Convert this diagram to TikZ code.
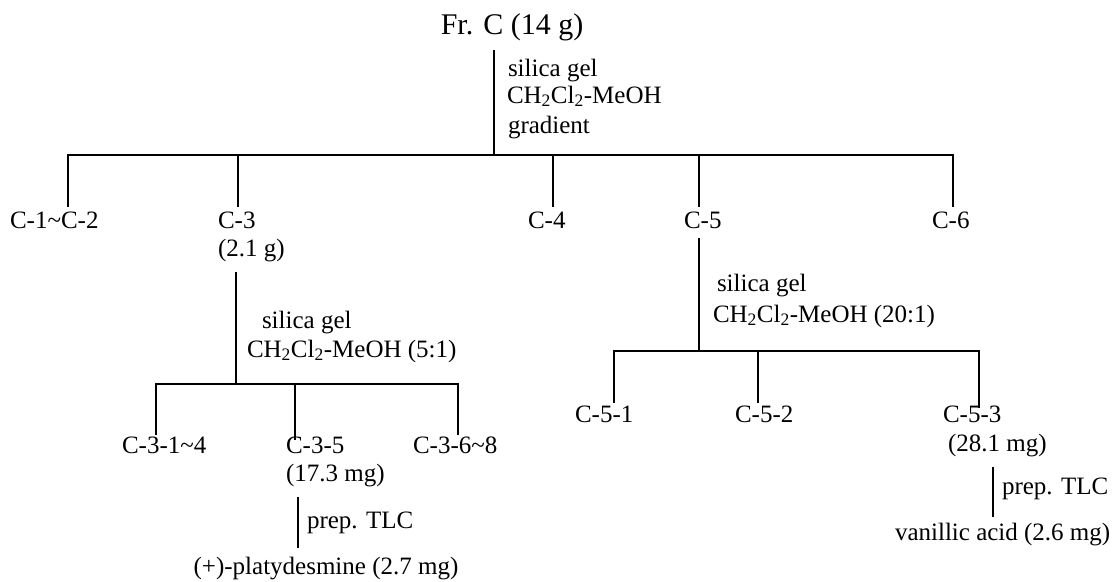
\documentclass[tikz,border=0pt]{standalone}
\usepackage{fontspec}
\setmainfont{Liberation Serif}
\newcommand{\dcm}{CH\textsubscript{2}Cl\textsubscript{2}-MeOH}
\begin{document}
\begin{tikzpicture}[x=1pt,y=-1pt,
  conn/.style={line width=1.8pt, line join=miter},
  lbl/.style={inner sep=0pt, outer sep=0pt, anchor=base west, font=\fontsize{25}{30}\selectfont},
  clbl/.style={lbl, anchor=base},
  ttl/.style={inner sep=0pt, outer sep=0pt, anchor=base, font=\fontsize{30}{36}\selectfont}]
\useasboundingbox (0,0) rectangle (1116,581);

% ---------- starting fraction ----------
\node[ttl] (fr) at (512,34) {Fr. C (14 g)};
\coordinate (s0top) at (494,50);
\coordinate (s0bot) at (494,155);
\draw[conn] (s0top) -- (s0bot);
\node[lbl] (k0a) at (508,76) {silica gel};
\node[lbl] (k0b) at (507,103) {\dcm};
\node[lbl] (k0c) at (508,133) {gradient};

% first column: fractions C-1 ... C-6
\coordinate (b1) at (68,155);
\coordinate (b3) at (238,155);
\coordinate (b4) at (553,155);
\coordinate (b5) at (699,155);
\coordinate (b6) at (953,155);
\coordinate (e1) at (68,207);
\coordinate (e3) at (238,207);
\coordinate (e4) at (553,207);
\coordinate (e5) at (699,207);
\coordinate (e6) at (953,207);
\draw[conn] (e1) -- (b1) -- (b6) -- (e6);
\draw[conn] (b3) -- (e3);
\draw[conn] (b4) -- (e4);
\draw[conn] (b5) -- (e5);

\node[lbl] (c12) at (10,228) {C-1\textasciitilde C-2};
\node[lbl] (c3) at (218,228) {C-3};
\node[lbl] (c3w) at (218,256) {(2.1 g)};
\node[lbl] (c4) at (528,228) {C-4};
\node[lbl] (c5) at (684,228) {C-5};
\node[lbl] (c6) at (932,228) {C-6};

% ---------- C-3 branch ----------
\coordinate (s3top) at (236,272);
\coordinate (s3bot) at (236,384);
\draw[conn] (s3top) -- (s3bot);
\node[lbl] (k3a) at (262,328) {silica gel};
\node[lbl] (k3b) at (247,357) {\dcm{} (5:1)};

\coordinate (b31) at (156,384);
\coordinate (b35) at (295,384);
\coordinate (b36) at (458,384);
\coordinate (e31) at (156,435);
\coordinate (e35) at (295,440);
\coordinate (e36) at (458,435);
\draw[conn] (e31) -- (b31) -- (b36) -- (e36);
\draw[conn] (b35) -- (e35);

\node[lbl] (c31) at (122,453) {C-3-1\textasciitilde 4};
\node[lbl] (c35) at (286,453) {C-3-5};
\node[lbl] (c35w) at (286,481) {(17.3 mg)};
\node[lbl] (c36) at (413,453) {C-3-6\textasciitilde 8};

\coordinate (t3top) at (298,497);
\coordinate (t3bot) at (298,548);
\draw[conn] (t3top) -- (t3bot);
\node[lbl] (p3) at (307,528) {prep. TLC};
\node[clbl] (pla) at (326,574) {(+)-platydesmine (2.7 mg)};

% ---------- C-5 branch ----------
\coordinate (s5top) at (699,238);
\coordinate (s5bot) at (699,351);
\draw[conn] (s5top) -- (s5bot);
\node[lbl] (k5a) at (717,291) {silica gel};
\node[lbl] (k5b) at (713,322) {\dcm{} (20:1)};

\coordinate (b51) at (614,351);
\coordinate (b52) at (758,351);
\coordinate (b53) at (979,351);
\coordinate (e51) at (614,403);
\coordinate (e52) at (758,403);
\coordinate (e53) at (979,408);
\draw[conn] (e51) -- (b51) -- (b53) -- (e53);
\draw[conn] (b52) -- (e52);

\node[lbl] (c51) at (575,422) {C-5-1};
\node[lbl] (c52) at (735,422) {C-5-2};
\node[lbl] (c53) at (943,422) {C-5-3};
\node[lbl] (c53w) at (948,451) {(28.1 mg)};

\coordinate (t5top) at (993,467);
\coordinate (t5bot) at (993,517);
\draw[conn] (t5top) -- (t5bot);
\node[lbl] (p5) at (1002,494) {prep. TLC};
\node[lbl] (van) at (895,540) {vanillic acid (2.6 mg)};
\end{tikzpicture}
\end{document}
